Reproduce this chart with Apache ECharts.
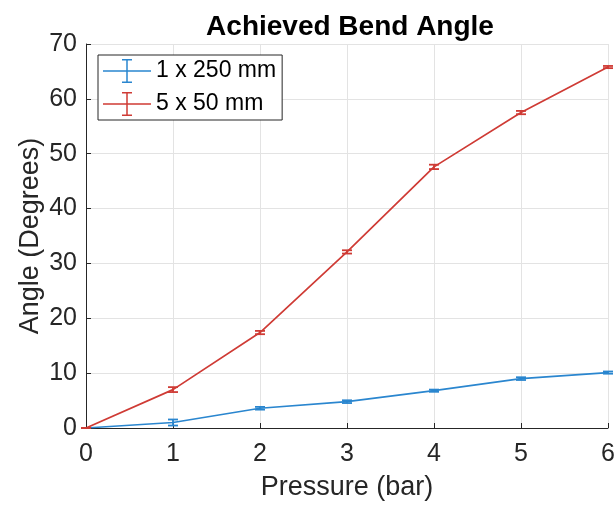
<!DOCTYPE html>
<html>
<head>
<meta charset="utf-8">
<script src="https://cdn.jsdelivr.net/npm/echarts@6/dist/echarts.min.js"></script>
<style>
  html, body { margin: 0; padding: 0; background: #fff; }
  #chart { width: 616px; height: 507px; }
</style>
</head>
<body>
<div id="chart"></div>
<script>
// pressure steps (bar)
const pressure = [0, 1, 2, 3, 4, 5, 6];
// 1 x 250 mm actuator
const angleLong = [0, 1.0, 3.6, 4.8, 6.8, 9.0, 10.1];
const errLong = [0, 0.55, 0.25, 0.25, 0.2, 0.25, 0.2];
// 5 x 50 mm actuator
const angleShort = [0, 7.0, 17.4, 32.1, 47.6, 57.5, 65.8];
const errShort = [0, 0.45, 0.3, 0.3, 0.4, 0.3, 0.2];

const seriesNames = ['1 x 250 mm', '5 x 50 mm'];
const colors = ['#2a86cf', '#cf3b35'];

const font = 'Liberation Sans, Arial, Helvetica, sans-serif';
const axisColor = '#262626';

// legend icon: horizontal line with an error bar across it
const errIcon = 'path://M0,11.25h48v1.5h-48z M23.25,1h1.5v22h-1.5z M19,0h10v1.5h-10z M19,22.5h10v1.5h-10z';

function errorData(ys, es) {
  return pressure.map((x, i) => [x, ys[i] - es[i], ys[i] + es[i]]);
}

function renderErr(color) {
  return function (params, api) {
    const x = api.value(0);
    const lo = api.coord([x, api.value(1)]);
    const hi = api.coord([x, api.value(2)]);
    const hw = 5;
    const style = { stroke: color, lineWidth: 1.8, fill: null };
    return {
      type: 'group',
      children: [
        { type: 'line', shape: { x1: lo[0], y1: lo[1], x2: hi[0], y2: hi[1] }, style },
        { type: 'line', shape: { x1: lo[0] - hw, y1: lo[1], x2: lo[0] + hw, y2: lo[1] }, style },
        { type: 'line', shape: { x1: hi[0] - hw, y1: hi[1], x2: hi[0] + hw, y2: hi[1] }, style }
      ]
    };
  };
}

const chart = echarts.init(document.getElementById('chart'), null, { renderer: 'canvas' });

const option = {
  backgroundColor: '#fff',
  animation: false,
  title: {
    text: 'Achieved Bend Angle',
    left: 345,
    textAlign: 'center',
    top: 8,
    textStyle: { fontFamily: font, fontWeight: 'bold', fontSize: 28, color: '#000' }
  },
  legend: {
    orient: 'vertical',
    left: 98,
    top: 55,
    padding: [4, 6, 4, 5],
    itemWidth: 48,
    itemHeight: 24,
    itemGap: 9,
    backgroundColor: '#fff',
    borderColor: axisColor,
    borderWidth: 1,
    borderRadius: 0,
    textStyle: { fontFamily: font, fontSize: 23, color: '#000' },
    data: seriesNames.map(n => ({ name: n, icon: errIcon }))
  },
  grid: { left: 86, right: 8, top: 44, bottom: 79, outerBoundsMode: 'none', containLabel: false },
  xAxis: {
    type: 'value',
    min: 0, max: 6, interval: 1,
    name: 'Pressure (bar)',
    nameLocation: 'middle',
    nameGap: 46,
    nameMoveOverlap: false,
    nameTextStyle: { fontFamily: font, fontSize: 27, color: axisColor },
    axisLine: { show: true, lineStyle: { color: axisColor, width: 1 } },
    axisTick: { show: true, inside: true, length: 5, lineStyle: { color: axisColor } },
    axisLabel: { fontFamily: font, fontSize: 25, color: axisColor, margin: 14 },
    splitLine: { show: true, lineStyle: { color: '#e3e3e3', width: 1 } }
  },
  yAxis: {
    type: 'value',
    min: 0, max: 70, interval: 10,
    name: 'Angle (Degrees)',
    nameLocation: 'middle',
    nameGap: 42,
    nameMoveOverlap: false,
    nameTextStyle: { fontFamily: font, fontSize: 27, color: axisColor },
    axisLine: { show: true, lineStyle: { color: axisColor, width: 1 } },
    axisTick: { show: true, inside: true, length: 5, lineStyle: { color: axisColor } },
    axisLabel: { fontFamily: font, fontSize: 25, color: axisColor, margin: 9 },
    splitLine: { show: true, lineStyle: { color: '#e3e3e3', width: 1 } }
  },
  series: [
    {
      name: seriesNames[0],
      type: 'line',
      data: pressure.map((x, i) => [x, angleLong[i]]),
      showSymbol: false,
      symbol: 'none',
      lineStyle: { color: colors[0], width: 1.7 },
      itemStyle: { color: colors[0] },
      z: 2
    },
    {
      name: seriesNames[0],
      type: 'custom',
      data: errorData(angleLong, errLong),
      renderItem: renderErr(colors[0]),
      itemStyle: { color: colors[0] },
      encode: { x: 0, y: [1, 2] },
      z: 3
    },
    {
      name: seriesNames[1],
      type: 'line',
      data: pressure.map((x, i) => [x, angleShort[i]]),
      showSymbol: false,
      symbol: 'none',
      lineStyle: { color: colors[1], width: 1.7 },
      itemStyle: { color: colors[1] },
      z: 4
    },
    {
      name: seriesNames[1],
      type: 'custom',
      data: errorData(angleShort, errShort),
      renderItem: renderErr(colors[1]),
      itemStyle: { color: colors[1] },
      encode: { x: 0, y: [1, 2] },
      z: 5
    }
  ]
};

chart.setOption(option);
</script>
</body>
</html>
